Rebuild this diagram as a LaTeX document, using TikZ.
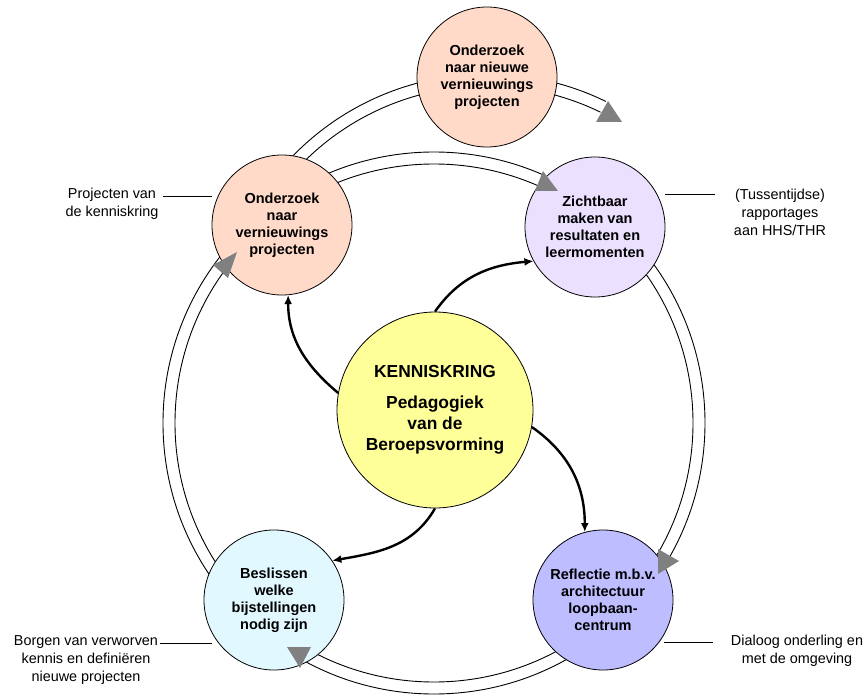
\documentclass[tikz,border=0pt]{standalone}
\usepackage{fontspec}
\setmainfont{Liberation Sans}
\usetikzlibrary{arrows.meta}
\definecolor{peach}{RGB}{255,218,201}
\definecolor{lav}{RGB}{236,224,255}
\definecolor{peri}{RGB}{189,189,255}
\definecolor{cyanl}{RGB}{225,248,255}
\definecolor{yel}{RGB}{255,255,153}
\definecolor{grayarrow}{RGB}{128,128,128}
\begin{document}
\begin{tikzpicture}[x=1pt,y=1pt,
  bub/.style={circle,draw,line width=0.8pt,minimum size=140pt,inner sep=0pt,align=center,font=\fontsize{14.5}{17}\selectfont\bfseries},
  lbl/.style={align=center,font=\fontsize{14.4}{18}\selectfont,inner sep=0pt},
  ring/.style={line width=0.9pt},
  flow/.style={line width=2.4pt,-{Latex[length=9pt,width=8pt]}},
  tri/.style={fill=grayarrow},
  tick/.style={line width=0.8pt}]
\useasboundingbox (0,0) rectangle (867,-695);
% rings
\draw[ring] (434,-423) circle[radius=271];
\draw[ring] (434,-423) circle[radius=259];
\draw[ring] (487,-345) ++(140:271) arc[start angle=140,end angle=64,radius=271];
\draw[ring] (487,-345) ++(140:259) arc[start angle=140,end angle=64,radius=259];
% circles
\node[bub,fill=peach] (tl) at (282,-225) {Onderzoek\\naar\\vernieuwings\\projecten};
\node[bub,fill=peach] (top) at (487,-77) {Onderzoek\\naar nieuwe\\vernieuwings\\projecten};
\node[bub,fill=lav] (tr) at (595,-227) {Zichtbaar\\maken van\\resultaten en\\leermomenten};
\node[bub,fill=peri] (br) at (603,-600) {Reflectie m.b.v.\\architectuur\\loopbaan-\\centrum};
\node[bub,fill=cyanl] (bl) at (274,-600) {Beslissen\\welke\\bijstellingen\\nodig zijn};
\node[bub,fill=yel,minimum size=196pt,font=\fontsize{17.4}{21}\selectfont\bfseries] (c) at (435,-410) {KENNISKRING\\[10pt]Pedagogiek\\van de\\Beroepsvorming};
% gray arrowheads
\fill[tri] (596,-122) -- (622,-122) -- (608,-101) -- cycle;
\fill[tri] (535,-191) -- (558,-191) -- (543,-171) -- cycle;
\fill[tri] (213,-265) -- (237,-252) -- (228,-278) -- cycle;
\fill[tri] (658,-549) -- (658,-574) -- (679,-561) -- cycle;
\fill[tri] (287,-647) -- (311,-647) -- (300,-668) -- cycle;
% flows
\draw[flow] (c.170) to[out=140,in=-90] (tl.-85);
\draw[flow] (c.90) to[out=55,in=185] (tr.209);
\draw[flow] (c.-10) to[out=-35,in=90] (br.105);
\draw[flow] (c.-90) to[out=-120,in=10] (bl.34);
% labels
\node[lbl] (l1) at (112,-204) {Projecten van\\de kenniskring};
\coordinate (l1a) at (163,-196);
\coordinate (l1b) at (212,-196);
\draw[tick] (l1a) -- (l1b);
\node[lbl] (l2) at (780,-212) {(Tussentijdse)\\rapportages\\aan HHS/THR};
\coordinate (l2a) at (665,-194);
\coordinate (l2b) at (715,-194);
\draw[tick] (l2a) -- (l2b);
\node[lbl] (l3) at (86,-660) {Borgen van verworven\\kennis en definiëren\\nieuwe projecten};
\coordinate (l3a) at (160,-643);
\coordinate (l3b) at (212,-643);
\draw[tick] (l3a) -- (l3b);
\node[lbl] (l4) at (797,-651) {Dialoog onderling en\\met de omgeving};
\coordinate (l4a) at (664,-642);
\coordinate (l4b) at (713,-642);
\draw[tick] (l4a) -- (l4b);
\end{tikzpicture}
\end{document}
